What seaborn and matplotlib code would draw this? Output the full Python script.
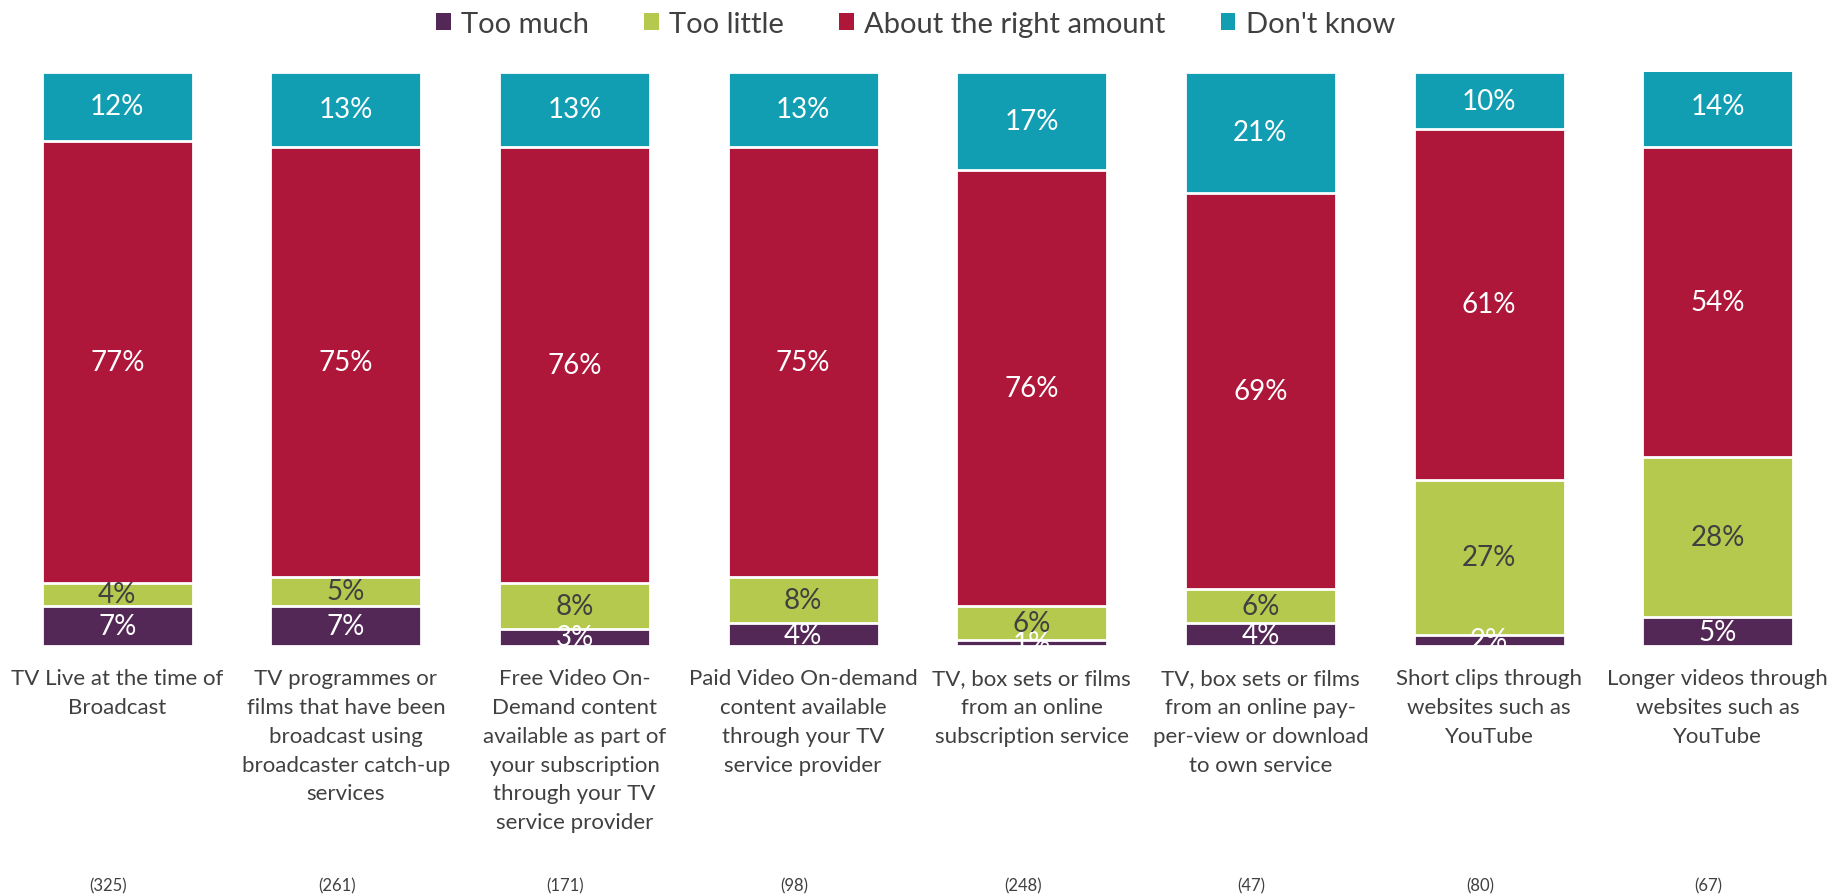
import matplotlib
matplotlib.use("Agg")
import matplotlib.pyplot as plt
import matplotlib.transforms as mtransforms
from matplotlib.patches import Patch
import numpy as np
import pandas as pd
import seaborn as sns

# Survey categories (tick labels, wrapped as displayed)
categories = [
    "TV Live at the time of\nBroadcast",
    "TV programmes or\nfilms that have been\nbroadcast using\nbroadcaster catch-up\nservices",
    "Free Video On-\nDemand content\navailable as part of\nyour subscription\nthrough your TV\nservice provider",
    "Paid Video On-demand\ncontent available\nthrough your TV\nservice provider",
    "TV, box sets or films\nfrom an online\nsubscription service",
    "TV, box sets or films\nfrom an online pay-\nper-view or download\nto own service",
    "Short clips through\nwebsites such as\nYouTube",
    "Longer videos through\nwebsites such as\nYouTube",
]
base_sizes = ["(325)", "(261)", "(171)", "(98)", "(248)", "(47)", "(80)", "(67)"]

# Response shares (%)
too_much = [7, 7, 3, 4, 1, 4, 2, 5]
too_little = [4, 5, 8, 8, 6, 6, 27, 28]
about_right = [77, 75, 76, 75, 76, 69, 61, 54]
dont_know = [12, 13, 13, 13, 17, 21, 10, 14]

series_names = ["Too much", "Too little", "About the right amount", "Don't know"]
series_values = [too_much, too_little, about_right, dont_know]
series_colors = ["#532857", "#B5C94F", "#AE163A", "#119EB3"]
label_colors = ["white", "#404040", "white", "white"]

FONT = "Lato"
TEXT = "#404040"

sns.set_theme(style="white")
plt.rcParams["font.family"] = [FONT, "DejaVu Sans"]

fig = plt.figure(figsize=(18.31, 8.95), dpi=100)
W, H = 1831, 895
ax = fig.add_axes([3 / W, (H - 647) / H, 1829 / W, 574 / H])

df = pd.DataFrame({"category": categories})
bottoms = np.zeros(len(categories))
cums = []
for vals in series_values:
    bottoms = bottoms + np.array(vals)
    cums.append(bottoms.copy())

# Stacked bars: draw cumulative totals from the top layer down
for i in range(len(series_values) - 1, -1, -1):
    df["value"] = cums[i]
    sns.barplot(data=df, x="category", y="value", color=series_colors[i],
                saturation=1, width=0.66, edgecolor="white", linewidth=2,
                ax=ax, order=categories)

# Segment value labels, clipped to the plot area
for i, vals in enumerate(series_values):
    for j, v in enumerate(vals):
        centre = cums[i][j] - v / 2
        t = ax.text(j, centre, f"{v}%", ha="center", va="center",
                    fontsize=20, color=label_colors[i])
        t.set_clip_box(ax.bbox)
        t.set_clip_on(True)

ax.set_xlim(-0.5, len(categories) - 0.5)
ax.set_ylim(0, 100)
ax.set_xlabel("")
ax.set_ylabel("")
ax.set_yticks([])
ax.tick_params(axis="x", length=0, pad=16, labelsize=16, labelcolor=TEXT)
for lab in ax.get_xticklabels():
    lab.set_linespacing(1.55)
for s in ax.spines.values():
    s.set_visible(False)

# Base sizes under each category
trans = mtransforms.blended_transform_factory(ax.transData, fig.transFigure)
for j, n in enumerate(base_sizes):
    fig.text(j - 0.04, 1 - 886 / H, n, transform=trans, ha="center",
             va="center", fontsize=12, color=TEXT)

handles = [Patch(facecolor=c, edgecolor="none") for c in series_colors]
fig.legend(handles, series_names, loc="center", bbox_to_anchor=(0.5, 1 - 25 / H),
           ncol=4, frameon=False, fontsize=21, labelcolor=TEXT,
           handlelength=0.5, handleheight=0.5, handletextpad=0.35,
           columnspacing=1.9)

fig.savefig("out.png", dpi=100)
